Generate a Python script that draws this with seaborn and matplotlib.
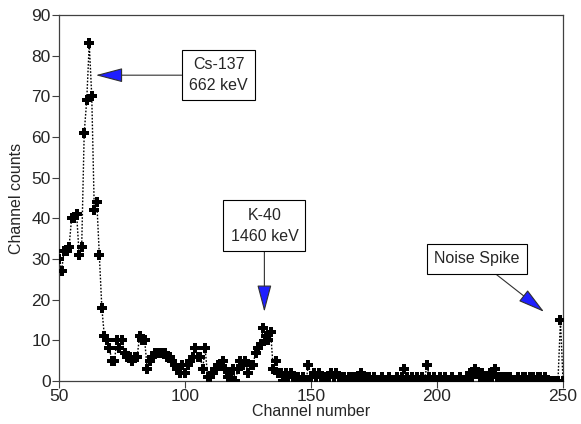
import numpy as np
import pandas as pd
import matplotlib
matplotlib.use("Agg")
import matplotlib.pyplot as plt
import seaborn as sns

channels = list(range(50, 251))
counts = [
    30, 27, 32, 32, 33, 40, 40, 41, 31, 33,   # 50-59
    61, 69, 83, 70, 42, 44, 31, 18, 11, 10,   # 60-69
    8, 5, 5, 10, 8, 10, 7, 6, 6, 5,           # 70-79
    6, 6, 11, 10, 10, 3, 5, 6, 7, 7,          # 80-89
    7, 7, 7, 6, 6, 5, 4, 3, 2, 4,             # 90-99
    2, 4, 5, 6, 8, 6, 6, 3, 8, 1,             # 100-109
    1, 2, 3, 4, 4, 5, 3, 1, 2, 3,             # 110-119
    0, 3, 5, 4, 5, 2, 4, 4, 7, 8,             # 120-129
    9, 13, 11, 10, 12, 3, 5, 2, 2, 0,         # 130-139
    2, 1, 2, 1, 0, 1, 0, 1, 0, 4,             # 140-149
    1, 2, 1, 2, 1, 1, 0, 1, 2, 1,             # 150-159
    2, 1, 1, 1, 0, 1, 1, 1, 0, 1,             # 160-169
    2, 0, 1, 1, 0, 1, 0, 0, 1, 0,             # 170-179
    0, 1, 0, 0, 1, 0, 1, 3, 1, 0,             # 180-189
    1, 0, 1, 0, 1, 0, 4, 1, 0, 1,             # 190-199
    0, 1, 0, 1, 0, 0, 1, 0, 0, 1,             # 200-209
    0, 0, 1, 2, 1, 3, 2, 1, 2, 0,             # 210-219
    1, 2, 1, 3, 1, 1, 1, 1, 1, 1,             # 220-229
    0, 0, 1, 0, 1, 1, 0, 1, 1, 0,             # 230-239
    1, 1, 0, 1, 0, 0, 0, 0, 0, 15,            # 240-249
    0,                                        # 250
]

x_ticks = [50, 100, 150, 200, 250]
y_ticks = [0, 10, 20, 30, 40, 50, 60, 70, 80, 90]

annot_texts = ["Cs-137\n662 keV", "K-40\n1460 keV", "Noise Spike"]
annot_tips = [(64.6, 75.2), (131.5, 17), (242.5, 17)]
annot_text_pos = [(113.3, 75.2), (131.5, 38.2), (215.7, 30.0)]

df = pd.DataFrame({"channel": channels, "counts": counts})

sns.set_theme(style="white")
plt.rcParams["font.family"] = ["Liberation Sans", "DejaVu Sans"]

fig = plt.figure(figsize=(5.81, 4.24), dpi=100)
ax = fig.add_axes([59 / 581, 43 / 424, (563 - 59) / 581, (381 - 15) / 424])

sns.lineplot(data=df, x="channel", y="counts", ax=ax, color="black",
             linestyle=(0, (1.2, 1.2)), linewidth=1.0, marker="P",
             markersize=7.5, markeredgewidth=0, markerfacecolor="black",
             zorder=3)

ax.set_xlim(50, 250)
ax.set_ylim(0, 90)
ax.set_xticks(x_ticks)
ax.set_yticks(y_ticks)
ax.tick_params(axis="both", which="both", direction="out", length=5,
               width=0.8, color="#404040", labelsize=12.5, pad=1,
               bottom=True, left=True)
for s in ax.spines.values():
    s.set_color("#404040")
    s.set_linewidth(0.9)
ax.set_xlabel("Channel number", fontsize=11.5, labelpad=0)
ax.set_ylabel("Channel counts", fontsize=11.5, labelpad=5)

box = dict(boxstyle="square,pad=0.45", fc="white", ec="black", lw=0.8)
for txt, tip, pos in zip(annot_texts, annot_tips, annot_text_pos):
    ax.annotate(txt, xy=tip, xytext=pos, textcoords="data",
                ha="center", va="center", fontsize=11.5, bbox=box,
                linespacing=1.5, zorder=5,
                arrowprops=dict(arrowstyle="-|>,head_length=17,head_width=4.5",
                                mutation_scale=1, fc="#1f1fff", ec="#303030",
                                lw=0.8, shrinkA=0, shrinkB=0))

fig.savefig("out.png", dpi=100)
